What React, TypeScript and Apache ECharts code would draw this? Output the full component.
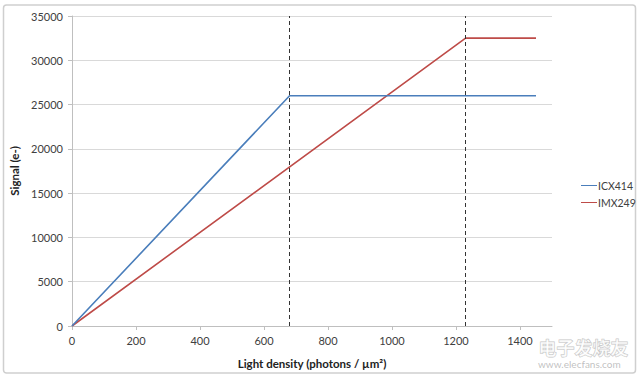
import React, { useEffect, useRef } from "react";
import * as echarts from "echarts";

const icxX = [0, 680, 1450];
const icxY = [0, 26000, 26000];
const imxX = [0, 1230, 1450];
const imxY = [0, 32500, 32500];
const markerX = [680, 1230];
const seriesNames = ["ICX414", "IMX249"];
const xTickValues = [0, 200, 400, 600, 800, 1000, 1200, 1400];

const FONT = "Lato, 'Open Sans', sans-serif";

export default function App() {
  const ref = useRef<HTMLDivElement>(null);
  useEffect(() => {
    if (!ref.current) return;
    const chart = echarts.init(ref.current, null, { renderer: "svg" });
    chart.setOption({
      animation: false,
      backgroundColor: "#ffffff",
      textStyle: { fontFamily: FONT },
      grid: { left: 72, right: 88, top: 16, bottom: 51 },
      legend: {
        orient: "vertical",
        left: 576,
        top: 175,
        itemWidth: 16,
        itemHeight: 10,
        itemGap: 6,
        icon: "path://M0,4.5L16,4.5L16,5.5L0,5.5Z",
        textStyle: { fontSize: 10.5, color: "#404040", fontFamily: FONT, padding: [0, 0, 0, -4] },
        data: seriesNames,
      },
      xAxis: {
        type: "value",
        min: 0,
        max: 1500,
        interval: 200,
        name: "Light density (photons / µm²)",
        nameLocation: "middle",
        nameGap: 31,
        nameTextStyle: { fontWeight: "bold", fontSize: 11.5, color: "#222", fontFamily: FONT },
        axisLine: { show: true, lineStyle: { color: "#bfbfbf", width: 1 } },
        axisTick: { show: true, length: 4, lineStyle: { color: "#bfbfbf" }, customValues: xTickValues },
        axisLabel: {
          fontSize: 11,
          color: "#404040",
          margin: 9,
          customValues: xTickValues,
          fontFamily: FONT,
          formatter: (v: number) => String(v),
        },
        splitLine: { show: false },
      },
      yAxis: {
        type: "value",
        min: 0,
        max: 35000,
        interval: 5000,
        name: "Signal (e-)",
        nameLocation: "middle",
        nameGap: 52,
        nameTextStyle: { fontWeight: "bold", fontSize: 11.5, color: "#222", fontFamily: FONT },
        axisLine: { show: true, lineStyle: { color: "#bfbfbf", width: 1 } },
        axisTick: { show: true, length: 4, lineStyle: { color: "#bfbfbf" } },
        axisLabel: {
          fontSize: 11,
          color: "#404040",
          margin: 9,
          fontFamily: FONT,
          formatter: (v: number) => String(v),
        },
        splitLine: { show: true, lineStyle: { color: "#d9d9d9", width: 1 } },
      },
      series: [
        {
          name: seriesNames[0],
          type: "line",
          symbol: "none",
          data: icxX.map((x, i) => [x, icxY[i]]),
          lineStyle: { color: "#4a7ebb", width: 1.6 },
          itemStyle: { color: "#4a7ebb" },
          markLine: {
            silent: true,
            symbol: "none",
            label: { show: false },
            lineStyle: { color: "#333", type: [4, 3], width: 1 },
            data: markerX.map((v) => ({ xAxis: v })),
          },
          z: 3,
        },
        {
          name: seriesNames[1],
          type: "line",
          symbol: "none",
          data: imxX.map((x, i) => [x, imxY[i]]),
          lineStyle: { color: "#be4b48", width: 1.6 },
          itemStyle: { color: "#be4b48" },
          z: 2,
        },
      ],
      graphic: [
        {
          type: "rect",
          shape: { x: 3.5, y: 5, width: 632, height: 368, r: 3 },
          style: { fill: "none", stroke: "#cfcfcf", lineWidth: 1.5 },
          silent: true,
          z: -1,
        },
        {
          type: "text",
          left: 538,
          top: 337,
          style: {
            text: "电子发烧友",
            font: "bold 18px 'Noto Sans CJK SC'",
            fill: "rgba(255,255,255,0.6)",
            stroke: "rgba(120,120,120,0.45)",
            lineWidth: 1,
          },
          z: 10,
        },
        {
          type: "text",
          left: 538,
          top: 359,
          style: {
            text: "www.elecfans.com",
            font: "10px " + FONT,
            fill: "rgba(150,150,150,0.6)",
          },
          z: 10,
        },
      ],
    });
    return () => chart.dispose();
  }, []);
  return (
    <div
      ref={ref}
      style={{ position: "absolute", left: 0, top: 0, width: 640, height: 377 }}
    />
  );
}
